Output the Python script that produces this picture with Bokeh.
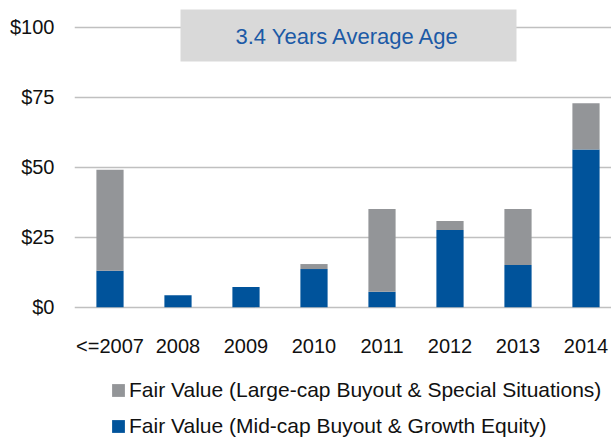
from bokeh.plotting import figure
from bokeh.models import (ColumnDataSource, Range1d, FixedTicker, PrintfTickFormatter,
                          Legend, LegendItem, BoxAnnotation, Label)
from bokeh.core.properties import value
from bokeh.embed import file_html
from bokeh.resources import INLINE

# ---- data ----
categories = ["<=2007", "2008", "2009", "2010", "2011", "2012", "2013", "2014"]
mid_cap = [13.0, 4.3, 7.2, 13.6, 5.5, 27.6, 15.1, 56.3]
large_cap = [36.1, 0.0, 0.0, 1.8, 29.6, 3.2, 20.0, 16.5]
y_ticks = [0, 25, 50, 75, 100]
series_names = ["Fair Value (Mid-cap Buyout & Growth Equity)",
                "Fair Value (Large-cap Buyout & Special Situations)"]
title_text = "3.4 Years Average Age"

BLUE = "#00539b"
GRAY = "#939598"
FONT = "Liberation Sans"

xs = list(range(len(categories)))
src = ColumnDataSource(dict(x=xs, mid=mid_cap, large=large_cap, cat=categories))

# frame covers the whole figure height; category labels drawn below the $0 line
p = figure(width=611, height=440, output_backend="svg", toolbar_location=None,
           x_range=Range1d(-0.522, 7.375), y_range=Range1d(-47.6, 109.5),
           min_border_left=74, min_border_right=0, min_border_top=0, min_border_bottom=0)
p.outline_line_color = None
p.background_fill_color = "white"
p.xaxis.visible = False

rs = p.vbar_stack(["mid", "large"], x="x", width=0.4, source=src,
                  color=[BLUE, GRAY], line_color=None)

# category labels (x axis)
p.text(x="x", y=-13.9, text="cat", source=src, text_align="center", text_baseline="middle",
       text_font=value(FONT), text_font_size="20px", text_color="#111111")

# y axis
yax = p.yaxis[0]
yax.ticker = FixedTicker(ticks=y_ticks)
yax.formatter = PrintfTickFormatter(format="$%d")
yax.axis_line_color = None
yax.major_tick_line_color = None
yax.minor_tick_line_color = None
yax.major_tick_out = 0
yax.major_tick_in = 0
yax.minor_tick_out = 0
yax.minor_tick_in = 0
yax.major_label_text_font = FONT
yax.major_label_text_font_size = "20px"
yax.major_label_text_color = "#111111"
yax.major_label_standoff = 20

p.xgrid.grid_line_color = None
p.ygrid.ticker = FixedTicker(ticks=y_ticks)
p.ygrid.grid_line_color = "#c0c0c0"
p.ygrid.grid_line_width = 1.5

# title box
box = BoxAnnotation(left=1.037, right=5.978, bottom=87.75, top=106.3,
                    fill_color="#d9d9d9", fill_alpha=1.0, line_color=None)
p.add_layout(box)
lbl = Label(x=3.5, y=96.8, text=title_text, text_align="center", text_baseline="middle",
            text_font=FONT, text_font_size="22px", text_color="#1c5aa6")
p.add_layout(lbl)

legend = Legend(items=[LegendItem(label=series_names[1], renderers=[rs[1]]),
                       LegendItem(label=series_names[0], renderers=[rs[0]])],
                location=(36, 2), orientation="vertical",
                glyph_width=16, glyph_height=16, label_height=20, spacing=12,
                label_standoff=3, padding=0, margin=0,
                border_line_color=None, background_fill_alpha=0,
                label_text_font=FONT, label_text_font_size="21px",
                label_text_color="#111111")
p.add_layout(legend)

open("out.html", "w").write(file_html(p, INLINE))
